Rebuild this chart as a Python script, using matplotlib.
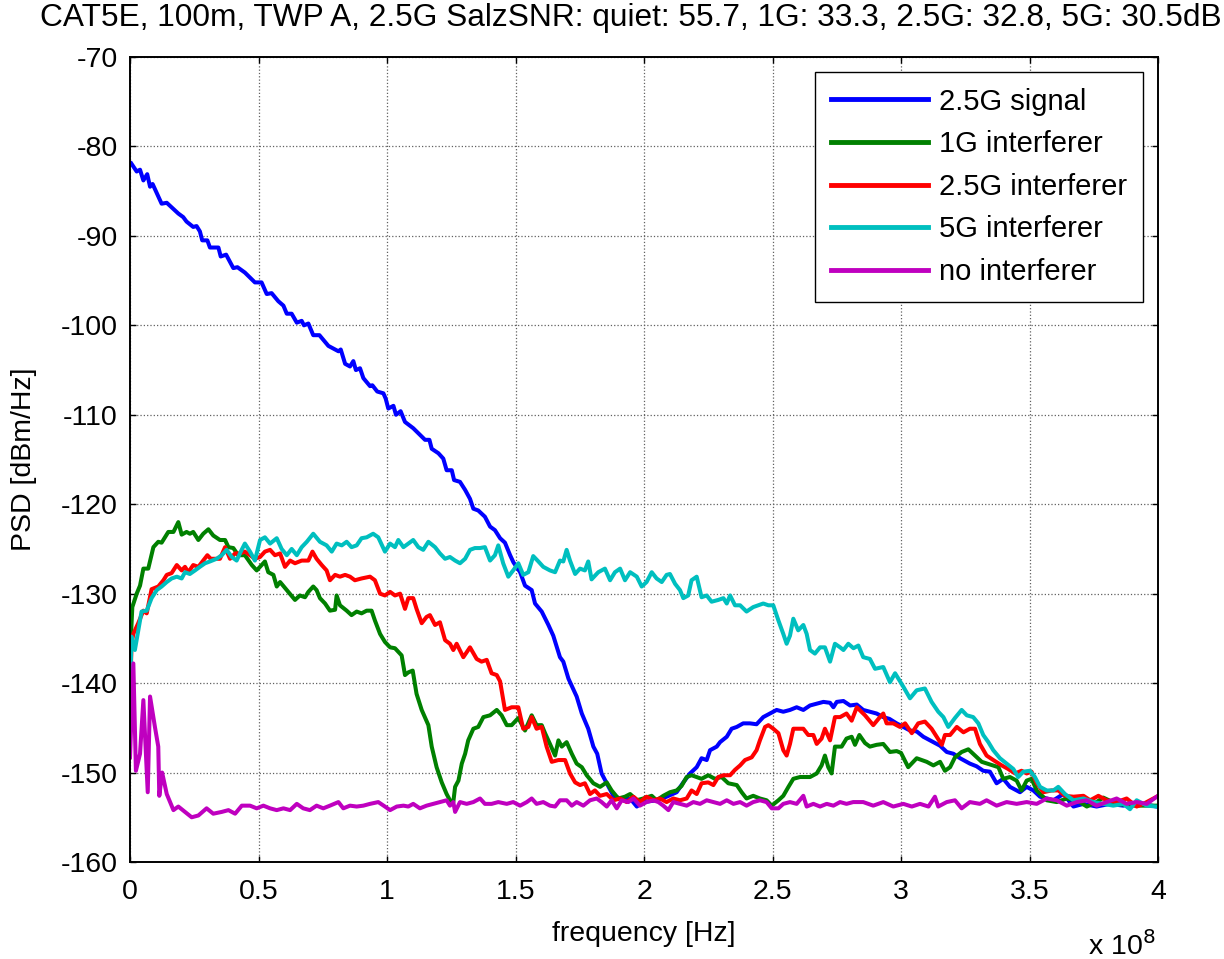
import matplotlib
matplotlib.use("Agg")
import matplotlib.pyplot as plt
import numpy as np

plt.rcParams['font.family'] = ['Liberation Sans', 'DejaVu Sans']
plt.rcParams['axes.unicode_minus'] = False

# frequency in units of 1e8 Hz, PSD in dBm/Hz
sig25_f = [0.005, 0.026, 0.039, 0.052, 0.067, 0.078, 0.088, 0.123, 0.143, 0.188, 0.207, 0.220, 0.246, 0.259,
           0.272, 0.281, 0.301, 0.311, 0.344, 0.353, 0.374, 0.402, 0.418, 0.447, 0.486, 0.512, 0.532, 0.551,
           0.577, 0.597, 0.610, 0.629, 0.649, 0.668, 0.677, 0.694, 0.713, 0.737, 0.772, 0.811, 0.820, 0.837,
           0.856, 0.869, 0.879, 0.895, 0.908, 0.934, 0.943, 0.962, 0.986, 0.995, 1.005, 1.025, 1.035, 1.053,
           1.070, 1.102, 1.148, 1.165, 1.174, 1.200, 1.219, 1.232, 1.252, 1.261, 1.284, 1.304, 1.323, 1.336,
           1.355, 1.381, 1.401, 1.420, 1.440, 1.459, 1.479, 1.492, 1.518, 1.537, 1.563, 1.576, 1.602, 1.628,
           1.647, 1.673, 1.686, 1.706, 1.738, 1.758, 1.783, 1.803, 1.818, 1.835, 1.855, 1.881, 1.907, 1.946,
           1.972, 1.997, 2.049, 2.088, 2.127, 2.153, 2.179, 2.205, 2.224, 2.244, 2.257, 2.283, 2.296, 2.322,
           2.341, 2.361, 2.386, 2.412, 2.438, 2.464, 2.490, 2.516, 2.542, 2.568, 2.594, 2.620, 2.646, 2.672,
           2.698, 2.724, 2.737, 2.750, 2.776, 2.802, 2.828, 2.853, 2.879, 2.905, 2.931, 2.955, 2.983, 3.009,
           3.035, 3.061, 3.087, 3.126, 3.152, 3.178, 3.204, 3.230, 3.268, 3.294, 3.320, 3.346, 3.372, 3.398,
           3.424, 3.463, 3.489, 3.515, 3.541, 3.593, 3.632, 3.671, 3.710, 3.761, 3.813, 3.865, 3.917, 3.995]
sig25_psd = [-81.9, -82.8, -82.6, -83.8, -83.1, -84.5, -84.2, -86.4, -86.3, -87.5, -87.9, -88.4, -89.0, -88.9,
             -89.5, -90.5, -90.5, -91.3, -91.3, -92.3, -92.1, -93.6, -93.5, -94.1, -95.2, -95.2, -96.5, -96.4,
             -97.3, -97.8, -98.7, -98.7, -99.7, -99.5, -100.0, -99.8, -101.1, -101.1, -102.3, -102.9, -102.7, -104.3,
             -104.6, -104.0, -105.0, -104.8, -105.9, -106.8, -106.7, -107.4, -107.6, -108.2, -109.3, -109.0, -110.0, -109.6,
             -110.8, -111.5, -112.8, -112.8, -113.8, -114.3, -114.9, -116.2, -116.2, -117.3, -117.5, -118.4, -119.4, -120.5,
             -120.7, -121.4, -122.5, -122.9, -123.8, -124.3, -125.7, -126.5, -127.6, -129.1, -129.6, -131.1, -132.0, -133.5,
             -134.7, -137.1, -137.6, -139.5, -141.5, -143.4, -145.1, -147.1, -147.9, -150.1, -151.2, -152.6, -152.9, -152.9,
             -153.8, -153.3, -153.1, -152.7, -152.2, -151.1, -150.1, -149.4, -148.4, -148.6, -147.5, -147.1, -146.6, -146.0,
             -145.1, -144.9, -144.5, -144.5, -144.6, -143.8, -143.4, -143.0, -143.2, -143.0, -142.7, -143.0, -142.5, -142.3,
             -142.1, -142.2, -142.7, -142.1, -142.0, -142.5, -142.4, -143.0, -143.2, -143.4, -143.8, -144.0, -144.5, -144.9,
             -145.3, -145.4, -146.0, -146.6, -147.0, -147.7, -147.9, -148.4, -149.0, -149.3, -149.8, -149.9, -151.2, -150.7,
             -151.6, -152.2, -151.6, -152.0, -152.7, -153.1, -152.4, -153.8, -153.5, -153.8, -153.5, -153.7, -153.4, -153.8]

int1g_f = [0.000, 0.009, 0.026, 0.039, 0.052, 0.071, 0.091, 0.110, 0.123, 0.149, 0.169, 0.188, 0.201, 0.220,
           0.233, 0.246, 0.266, 0.285, 0.305, 0.324, 0.350, 0.370, 0.383, 0.402, 0.421, 0.447, 0.474, 0.493,
           0.512, 0.525, 0.538, 0.558, 0.571, 0.584, 0.610, 0.642, 0.661, 0.681, 0.694, 0.713, 0.726, 0.739,
           0.759, 0.778, 0.798, 0.804, 0.817, 0.843, 0.862, 0.882, 0.901, 0.921, 0.940, 0.953, 0.973, 0.992,
           1.012, 1.031, 1.057, 1.070, 1.083, 1.100, 1.115, 1.135, 1.161, 1.174, 1.193, 1.213, 1.232, 1.245,
           1.258, 1.265, 1.278, 1.291, 1.304, 1.316, 1.336, 1.355, 1.375, 1.401, 1.427, 1.446, 1.466, 1.485,
           1.511, 1.537, 1.563, 1.582, 1.602, 1.615, 1.634, 1.654, 1.667, 1.680, 1.699, 1.719, 1.738, 1.758,
           1.777, 1.803, 1.829, 1.855, 1.874, 1.900, 1.926, 1.946, 1.972, 1.997, 2.030, 2.049, 2.075, 2.101,
           2.127, 2.146, 2.166, 2.185, 2.205, 2.224, 2.250, 2.276, 2.302, 2.328, 2.361, 2.380, 2.399, 2.425,
           2.451, 2.477, 2.497, 2.523, 2.542, 2.562, 2.581, 2.607, 2.646, 2.672, 2.691, 2.704, 2.717, 2.730,
           2.743, 2.769, 2.788, 2.808, 2.821, 2.838, 2.860, 2.879, 2.905, 2.931, 2.957, 2.983, 3.000, 3.028,
           3.061, 3.100, 3.126, 3.152, 3.171, 3.191, 3.210, 3.236, 3.262, 3.288, 3.314, 3.346, 3.379, 3.398,
           3.424, 3.450, 3.469, 3.489, 3.508, 3.528, 3.567, 3.606, 3.645, 3.684, 3.723, 3.761, 3.787, 3.839,
           3.904, 3.995]
int1g_psd = [-137.1, -131.5, -130.0, -129.1, -127.2, -127.2, -124.8, -124.2, -124.3, -123.1, -123.1, -122.0, -123.4, -123.1,
             -123.3, -123.1, -124.0, -123.3, -122.8, -123.5, -124.0, -124.0, -124.8, -124.9, -125.7, -125.7, -126.8, -127.4,
             -126.8, -126.4, -127.6, -127.9, -129.2, -128.7, -129.6, -130.7, -130.2, -130.4, -129.8, -129.2, -129.6, -130.5,
             -131.1, -131.9, -131.8, -130.2, -131.3, -131.9, -132.4, -132.0, -132.2, -131.9, -131.9, -133.0, -134.5, -135.4,
             -136.0, -136.1, -136.9, -139.1, -138.8, -138.6, -141.2, -143.0, -144.7, -147.1, -149.4, -151.1, -152.4, -153.1,
             -153.3, -151.6, -150.9, -149.0, -147.9, -146.4, -145.1, -144.9, -143.8, -143.6, -143.0, -143.6, -144.7, -144.7,
             -143.9, -145.3, -143.6, -144.7, -144.7, -145.6, -146.8, -148.1, -146.4, -147.1, -146.6, -147.9, -149.0, -149.4,
             -150.3, -151.2, -151.6, -151.1, -152.0, -152.9, -152.7, -152.4, -153.1, -152.9, -152.6, -153.1, -152.6, -152.2,
             -152.0, -151.5, -150.5, -150.3, -150.5, -150.7, -150.3, -150.7, -150.5, -151.2, -151.4, -152.2, -152.9, -152.6,
             -152.9, -153.1, -153.7, -153.1, -152.6, -151.6, -150.7, -150.5, -150.5, -150.1, -149.2, -148.1, -149.4, -150.1,
             -147.1, -147.1, -146.2, -146.0, -146.9, -145.8, -146.7, -147.1, -146.9, -146.8, -147.7, -147.6, -147.8, -149.4,
             -148.4, -148.8, -149.2, -148.8, -149.8, -149.4, -148.3, -147.7, -147.4, -148.1, -148.8, -149.1, -149.4, -150.7,
             -150.5, -150.9, -152.0, -150.9, -150.7, -152.0, -153.1, -153.3, -152.9, -153.1, -153.8, -153.3, -152.8, -153.5,
             -153.7, -153.7]

int25_f = [0.000, 0.006, 0.013, 0.032, 0.052, 0.065, 0.084, 0.110, 0.130, 0.143, 0.162, 0.182, 0.201, 0.214,
           0.227, 0.246, 0.266, 0.285, 0.301, 0.314, 0.331, 0.350, 0.370, 0.389, 0.409, 0.428, 0.447, 0.467,
           0.486, 0.506, 0.525, 0.545, 0.564, 0.584, 0.603, 0.623, 0.642, 0.668, 0.694, 0.710, 0.726, 0.746,
           0.765, 0.778, 0.798, 0.817, 0.837, 0.856, 0.875, 0.901, 0.934, 0.953, 0.973, 0.992, 1.012, 1.031,
           1.051, 1.070, 1.083, 1.102, 1.115, 1.135, 1.154, 1.167, 1.187, 1.206, 1.226, 1.245, 1.258, 1.271,
           1.297, 1.323, 1.349, 1.368, 1.388, 1.407, 1.427, 1.440, 1.459, 1.485, 1.511, 1.530, 1.550, 1.563,
           1.582, 1.602, 1.621, 1.641, 1.667, 1.693, 1.712, 1.732, 1.751, 1.770, 1.790, 1.809, 1.829, 1.855,
           1.881, 1.907, 1.933, 1.959, 1.984, 2.010, 2.036, 2.062, 2.088, 2.114, 2.140, 2.166, 2.185, 2.205,
           2.224, 2.250, 2.270, 2.289, 2.309, 2.335, 2.354, 2.374, 2.393, 2.419, 2.438, 2.451, 2.471, 2.484,
           2.503, 2.523, 2.542, 2.555, 2.568, 2.581, 2.600, 2.620, 2.639, 2.659, 2.672, 2.691, 2.704, 2.724,
           2.743, 2.763, 2.788, 2.808, 2.828, 2.860, 2.892, 2.918, 2.931, 2.944, 2.970, 2.996, 3.016, 3.042,
           3.067, 3.093, 3.119, 3.139, 3.159, 3.171, 3.191, 3.217, 3.243, 3.268, 3.288, 3.307, 3.333, 3.359,
           3.392, 3.417, 3.444, 3.469, 3.489, 3.508, 3.528, 3.554, 3.586, 3.612, 3.638, 3.671, 3.710, 3.736,
           3.768, 3.800, 3.839, 3.878, 3.917, 3.943, 3.995]
int25_psd = [-142.1, -135.6, -134.5, -133.3, -131.9, -132.2, -129.5, -129.2, -128.5, -127.9, -127.7, -126.8, -127.4, -127.0,
             -127.6, -126.8, -127.0, -126.3, -125.7, -126.1, -126.1, -126.1, -124.8, -126.1, -125.5, -125.5, -125.3, -125.7,
             -126.1, -125.9, -125.3, -125.1, -125.7, -125.5, -127.0, -126.3, -126.6, -126.3, -126.3, -125.3, -126.1, -126.8,
             -127.4, -128.5, -127.9, -128.1, -127.9, -128.1, -128.5, -128.3, -128.1, -128.5, -130.0, -130.2, -129.8, -130.2,
             -130.0, -131.7, -130.5, -130.5, -131.7, -133.3, -132.6, -132.4, -133.5, -133.2, -135.2, -135.6, -136.3, -135.6,
             -137.1, -136.0, -137.3, -137.6, -137.4, -138.9, -139.1, -139.8, -143.0, -142.7, -142.7, -145.1, -144.9, -143.8,
             -145.1, -144.9, -147.1, -148.8, -148.6, -148.6, -150.1, -151.1, -151.4, -151.2, -152.4, -152.0, -152.6, -152.4,
             -153.1, -152.9, -153.3, -152.7, -153.3, -152.7, -153.1, -152.9, -153.3, -152.9, -153.1, -152.9, -152.0, -152.4,
             -151.2, -151.1, -151.4, -150.5, -150.3, -150.3, -149.7, -149.2, -148.6, -148.3, -147.5, -146.4, -144.9, -144.7,
             -145.1, -145.6, -147.5, -148.1, -146.8, -145.1, -145.1, -145.1, -145.8, -145.8, -146.8, -146.2, -145.1, -146.4,
             -143.8, -143.8, -143.4, -144.2, -142.7, -143.6, -144.7, -143.8, -143.4, -144.5, -144.5, -144.9, -144.5, -145.6,
             -144.5, -144.3, -145.1, -146.0, -146.9, -145.8, -145.8, -144.9, -145.5, -145.1, -145.1, -146.8, -148.1, -148.6,
             -149.2, -149.6, -150.1, -149.8, -150.1, -149.9, -151.2, -152.2, -152.0, -152.0, -152.6, -152.7, -152.6, -153.1,
             -152.6, -153.1, -153.3, -152.9, -153.8, -153.5, -152.7]

int5g_f = [0.000, 0.006, 0.019, 0.045, 0.065, 0.084, 0.104, 0.123, 0.143, 0.162, 0.182, 0.201, 0.214, 0.233,
           0.253, 0.272, 0.292, 0.311, 0.337, 0.357, 0.376, 0.396, 0.415, 0.431, 0.447, 0.467, 0.486, 0.506,
           0.525, 0.545, 0.571, 0.590, 0.610, 0.629, 0.649, 0.668, 0.688, 0.713, 0.739, 0.765, 0.785, 0.804,
           0.824, 0.843, 0.862, 0.882, 0.901, 0.921, 0.946, 0.966, 0.992, 1.012, 1.031, 1.044, 1.064, 1.083,
           1.102, 1.122, 1.141, 1.161, 1.187, 1.206, 1.226, 1.245, 1.265, 1.284, 1.304, 1.323, 1.342, 1.362,
           1.381, 1.401, 1.420, 1.433, 1.452, 1.472, 1.491, 1.511, 1.530, 1.550, 1.569, 1.589, 1.608, 1.634,
           1.654, 1.673, 1.686, 1.699, 1.712, 1.732, 1.751, 1.770, 1.783, 1.796, 1.822, 1.848, 1.868, 1.887,
           1.907, 1.926, 1.946, 1.972, 1.991, 2.010, 2.030, 2.049, 2.069, 2.088, 2.101, 2.121, 2.140, 2.153,
           2.172, 2.185, 2.205, 2.224, 2.244, 2.263, 2.289, 2.309, 2.322, 2.335, 2.354, 2.374, 2.399, 2.425,
           2.444, 2.464, 2.484, 2.503, 2.523, 2.542, 2.555, 2.568, 2.581, 2.600, 2.620, 2.633, 2.646, 2.665,
           2.685, 2.704, 2.724, 2.743, 2.763, 2.776, 2.795, 2.815, 2.834, 2.853, 2.879, 2.899, 2.931, 2.957,
           2.977, 3.009, 3.035, 3.061, 3.093, 3.119, 3.145, 3.165, 3.184, 3.210, 3.236, 3.256, 3.281, 3.301,
           3.320, 3.340, 3.359, 3.385, 3.411, 3.437, 3.456, 3.476, 3.502, 3.521, 3.541, 3.567, 3.593, 3.612,
           3.638, 3.671, 3.710, 3.749, 3.787, 3.826, 3.865, 3.891, 3.917, 3.956, 3.995]
int5g_psd = [-141.5, -134.8, -136.3, -132.0, -131.9, -130.5, -129.6, -129.2, -128.7, -128.3, -128.1, -128.3, -127.6, -127.8,
             -127.4, -127.0, -126.6, -126.4, -126.1, -125.7, -125.1, -125.9, -126.3, -125.3, -124.4, -125.3, -126.3, -124.0,
             -123.7, -124.4, -123.8, -125.0, -125.7, -125.0, -125.7, -124.8, -124.2, -123.3, -124.2, -124.6, -125.3, -124.4,
             -124.6, -124.2, -124.8, -124.6, -123.8, -123.7, -123.3, -123.7, -125.3, -124.4, -124.8, -124.0, -124.8, -124.4,
             -124.0, -124.8, -125.1, -124.2, -124.8, -125.5, -126.1, -125.9, -126.3, -126.6, -126.1, -125.1, -124.9, -124.9,
             -124.8, -126.3, -125.7, -124.6, -126.6, -128.1, -127.4, -126.6, -127.9, -127.6, -125.8, -126.4, -127.0, -127.4,
             -127.6, -126.3, -126.4, -125.1, -126.3, -127.8, -127.2, -127.4, -126.4, -128.4, -127.6, -127.2, -128.5, -127.6,
             -127.2, -128.5, -127.6, -128.1, -129.2, -128.7, -127.6, -128.3, -128.7, -127.9, -127.8, -128.9, -129.6, -130.5,
             -130.2, -128.5, -128.1, -130.4, -130.2, -130.9, -130.7, -130.5, -131.1, -130.2, -131.3, -131.3, -132.0, -131.5,
             -131.3, -131.1, -131.3, -131.3, -133.0, -134.5, -135.6, -134.7, -132.8, -134.1, -133.5, -134.5, -136.3, -136.7,
             -136.0, -136.0, -137.6, -135.6, -136.0, -136.3, -135.6, -136.1, -135.8, -137.1, -137.3, -138.4, -138.2, -139.9,
             -138.9, -140.4, -141.7, -140.8, -140.6, -142.1, -143.2, -143.8, -144.9, -143.9, -143.0, -143.6, -143.8, -144.5,
             -145.8, -146.6, -147.5, -148.4, -149.0, -149.6, -150.5, -149.9, -149.8, -150.5, -151.6, -152.0, -152.0, -151.6,
             -152.4, -153.1, -152.9, -153.3, -153.5, -153.7, -153.5, -154.1, -153.1, -153.7, -153.8]

quiet_f = [0.000, 0.013, 0.023, 0.039, 0.052, 0.069, 0.078, 0.097, 0.110, 0.114, 0.125, 0.143, 0.169, 0.188,
           0.214, 0.240, 0.266, 0.298, 0.324, 0.357, 0.383, 0.409, 0.435, 0.467, 0.493, 0.519, 0.545, 0.571,
           0.597, 0.623, 0.649, 0.674, 0.700, 0.726, 0.752, 0.778, 0.811, 0.830, 0.856, 0.882, 0.908, 0.934,
           0.966, 0.992, 1.012, 1.038, 1.064, 1.083, 1.102, 1.128, 1.154, 1.180, 1.206, 1.232, 1.245, 1.258,
           1.265, 1.284, 1.310, 1.336, 1.362, 1.381, 1.407, 1.433, 1.466, 1.491, 1.518, 1.544, 1.563, 1.582,
           1.608, 1.634, 1.654, 1.673, 1.699, 1.719, 1.738, 1.764, 1.790, 1.816, 1.835, 1.855, 1.874, 1.894,
           1.913, 1.939, 1.959, 1.984, 2.010, 2.036, 2.056, 2.075, 2.095, 2.114, 2.140, 2.166, 2.192, 2.218,
           2.244, 2.270, 2.296, 2.322, 2.348, 2.374, 2.399, 2.425, 2.451, 2.477, 2.497, 2.523, 2.542, 2.568,
           2.594, 2.620, 2.633, 2.659, 2.685, 2.711, 2.737, 2.763, 2.788, 2.814, 2.853, 2.892, 2.931, 2.970,
           3.009, 3.042, 3.074, 3.107, 3.132, 3.145, 3.178, 3.210, 3.236, 3.268, 3.307, 3.333, 3.372, 3.411,
           3.450, 3.489, 3.528, 3.567, 3.606, 3.645, 3.684, 3.723, 3.761, 3.800, 3.839, 3.878, 3.917, 3.956,
           3.995]
quiet_psd = [-148.3, -137.8, -149.8, -147.9, -141.9, -152.2, -141.5, -144.9, -147.1, -152.6, -150.0, -152.4, -154.2, -153.8,
             -154.4, -155.0, -154.8, -154.0, -154.6, -154.4, -154.2, -154.6, -153.7, -153.7, -154.0, -153.7, -154.0, -154.2,
             -154.0, -154.2, -153.5, -154.0, -154.2, -153.7, -154.0, -153.7, -153.3, -154.0, -153.7, -153.8, -153.7, -153.5,
             -153.3, -153.8, -154.2, -153.8, -153.7, -153.8, -153.5, -154.0, -153.7, -153.5, -153.3, -153.1, -153.7, -153.3,
             -154.4, -153.3, -153.5, -153.3, -152.9, -153.5, -153.5, -153.3, -153.5, -153.3, -153.7, -153.3, -152.9, -153.5,
             -153.3, -153.7, -153.8, -153.1, -153.1, -153.7, -153.3, -153.7, -153.1, -152.9, -153.3, -153.8, -153.1, -154.0,
             -153.1, -153.3, -152.9, -153.7, -153.3, -153.1, -153.3, -153.7, -154.2, -153.3, -153.5, -153.7, -153.3, -153.5,
             -153.1, -153.3, -153.5, -153.1, -153.5, -153.3, -153.7, -153.3, -153.1, -153.3, -154.0, -154.0, -153.5, -153.3,
             -153.5, -152.6, -153.8, -153.5, -153.8, -153.5, -153.7, -153.3, -153.5, -153.3, -153.3, -153.7, -153.3, -153.8,
             -153.5, -153.8, -153.5, -153.8, -152.7, -153.8, -153.3, -153.1, -154.0, -153.3, -153.5, -153.1, -153.7, -153.3,
             -153.5, -153.3, -153.5, -152.9, -153.1, -153.7, -153.3, -153.1, -153.7, -153.3, -152.9, -153.5, -153.3, -153.5,
             -152.7]

series_labels = ['2.5G signal', '1G interferer', '2.5G interferer', '5G interferer', 'no interferer']
series_colors = ['#0000ff', '#008000', '#ff0000', '#00bfbf', '#bf00bf']
x_ticks = [0, 0.5, 1, 1.5, 2, 2.5, 3, 3.5, 4]
x_tick_labels = ['0', '0.5', '1', '1.5', '2', '2.5', '3', '3.5', '4']
y_ticks = [-160, -150, -140, -130, -120, -110, -100, -90, -80, -70]
freq_scale = 1e8

title_text = 'CAT5E, 100m, TWP A, 2.5G SalzSNR: quiet: 55.7, 1G: 33.3, 2.5G: 32.8, 5G: 30.5dB'

fig = plt.figure(figsize=(12.24, 9.59), dpi=100)
ax = fig.add_axes([130 / 1224, 1 - 862 / 959, 1028 / 1224, 805 / 959])

data = [(sig25_f, sig25_psd), (int1g_f, int1g_psd), (int25_f, int25_psd),
        (int5g_f, int5g_psd), (quiet_f, quiet_psd)]
for (f, p), lab, col in zip(data, series_labels, series_colors):
    ax.plot(np.asarray(f) * freq_scale, p, color=col, lw=2.9, label=lab)

ax.set_xlim(0, 4 * freq_scale)
ax.set_ylim(-160, -70)
ax.set_xticks(np.asarray(x_ticks) * freq_scale)
ax.set_xticklabels(x_tick_labels)
ax.set_yticks(y_ticks)

fs = 20.5
ax.tick_params(axis='both', which='both', direction='in', top=True, right=True,
               length=4, width=1.0, labelsize=fs)
ax.tick_params(axis='y', pad=9)
ax.tick_params(axis='x', pad=12)
ax.grid(True, linestyle=':', color='#606060', linewidth=0.9)
ax.set_axisbelow(True)
for sp in ax.spines.values():
    sp.set_linewidth(1.4)

ax.set_xlabel('frequency [Hz]', fontsize=fs, labelpad=12)
ax.set_ylabel('PSD [dBm/Hz]', fontsize=fs)
ax.yaxis.set_label_coords(-0.090, 0.5)

fig.text(1088 / 1224, 1 - 946 / 959, r'x 10$^{8}$', fontsize=fs, ha='left', va='center')
fig.text(631 / 1224, 1 - 18 / 959, title_text, fontsize=22.8, ha='center', va='center')

leg = ax.legend(loc='upper right', fontsize=21, frameon=True, fancybox=False,
                framealpha=1, edgecolor='black', handlelength=3.3, handletextpad=0.4,
                labelspacing=0.5, borderpad=0.55, borderaxespad=0.5)
leg.get_frame().set_linewidth(1.0)
for ln in leg.get_lines():
    ln.set_linewidth(3.5)

fig.savefig('out.png', dpi=100)
